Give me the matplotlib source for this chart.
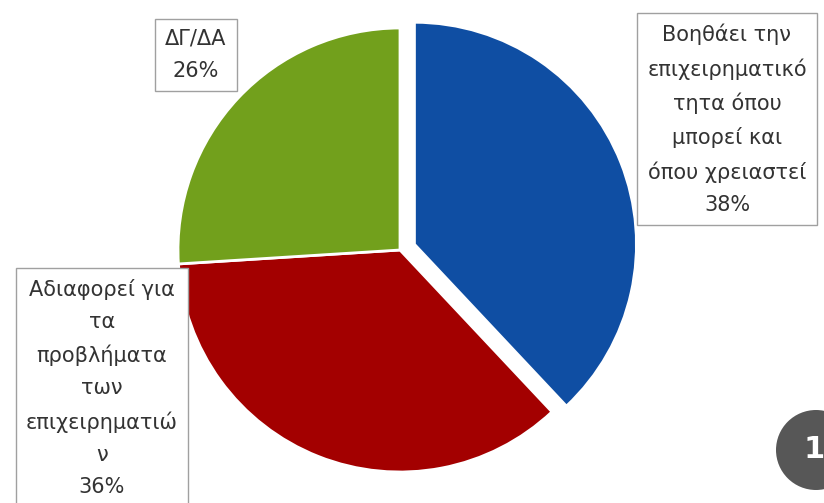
import numpy as np
import matplotlib
matplotlib.use('Agg')
import matplotlib.pyplot as plt
from matplotlib.patches import Circle
from matplotlib.transforms import IdentityTransform

# -- data
labels = ['Βοηθάει την\nεπιχειρηματικό\nτητα όπου\nμπορεί και\nόπου χρειαστεί',
          'Αδιαφορεί για\nτα\nπροβλήματα\nτων\nεπιχειρηματιώ\nν',
          'ΔΓ/ΔΑ']
values = [38, 36, 26]
colors = ['#0f4ea3', '#a30000', '#72a01c']
explode = [0.07, 0, 0]

W, H = 824, 503
R = 222.0          # pie radius in pixels
cx, cy = 400, 250  # pie centre in pixels (from top-left)

fig = plt.figure(figsize=(W / 100, H / 100), dpi=100)
fig.patch.set_facecolor('white')
ax = fig.add_axes([0, 0, 1, 1])
ax.pie(values, colors=colors, explode=explode, startangle=90,
       counterclock=False, radius=1.0,
       wedgeprops=dict(edgecolor='white', linewidth=2))
ax.set_xlim(-cx / R, (W - cx) / R)
ax.set_ylim(-(H - cy) / R, cy / R)
ax.set_aspect('equal')
ax.axis('off')

# -- label boxes (pixel positions of box centres)
box_pos = [(727, 119), (102, 388), (196, 55)]
for lab, v, (x, y) in zip(labels, values, box_pos):
    fig.text(x / W, 1 - y / H, '%s\n%d%%' % (lab, v), ha='center', va='center',
             fontsize=15, color='#333333', linespacing=1.75,
             family='DejaVu Sans',
             bbox=dict(boxstyle='square,pad=0.5', facecolor='white',
                       edgecolor='#a0a0a0', linewidth=1))

# -- slide number badge
badge = Circle((816, H - 450), 40, transform=IdentityTransform(),
               facecolor='#575757', edgecolor='none')
fig.patches.append(badge)
fig.text(814 / W, 1 - 450 / H, '1', ha='center', va='center',
         fontsize=22, color='white', fontweight='bold')

fig.savefig('out.png', dpi=100)
